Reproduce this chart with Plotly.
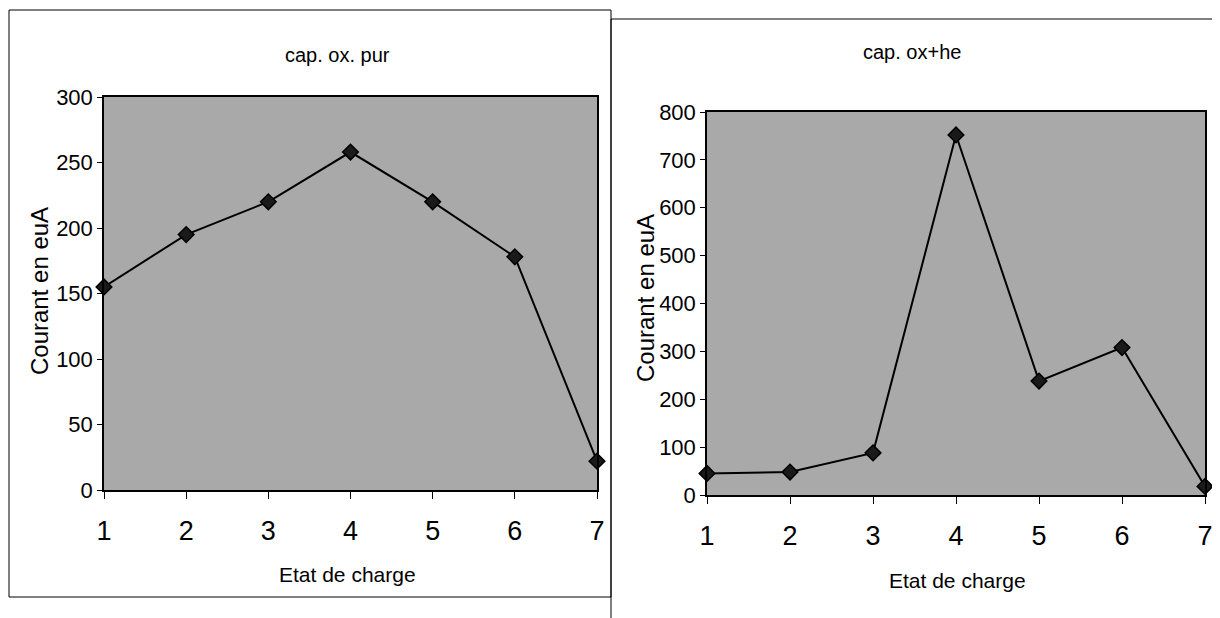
import plotly.graph_objects as go

etat = [1, 2, 3, 4, 5, 6, 7]
courant_pur = [155, 195, 220, 258, 220, 178, 22]
courant_he = [45, 48, 88, 752, 238, 308, 18]

title_left = "cap. ox. pur"
title_right = "cap. ox+he"
xlabel = "Etat de charge"
ylabel = "Courant en euA"

W, H = 1220, 618
OFF = 8  # page body margin
FONT = "Liberation Sans, Arial, sans-serif"
BG = "#a9a9a9"

fig = go.Figure()
for vals, ax in [(courant_pur, ""), (courant_he, "2")]:
    fig.add_trace(go.Scatter(
        x=etat, y=vals, mode="lines+markers",
        xaxis="x" + ax, yaxis="y" + ax,
        line=dict(color="black", width=2),
        marker=dict(symbol="diamond", size=12, color="#1a1a1a",
                    line=dict(color="black", width=1.5)),
        showlegend=False, cliponaxis=False,
    ))


def px(x):
    return (x - OFF) / W


def py(y):
    return 1 - (y - OFF) / H


common = dict(showline=True, linecolor="black", linewidth=1.5, mirror=True,
              showgrid=False, zeroline=False, ticks="outside",
              tickcolor="black", automargin=False)
xcommon = dict(common, ticklen=7, ticklabelstandoff=9,
               tickfont=dict(family=FONT, size=27, color="black"))
ycommon = dict(common, ticklen=5,
               tickfont=dict(family=FONT, size=22, color="black"))

ann = dict(xref="paper", yref="paper", showarrow=False,
           xanchor="center", yanchor="middle")

fig.update_layout(
    width=W, height=H,
    margin=dict(l=0, r=0, t=0, b=0, pad=0),
    paper_bgcolor="white",
    plot_bgcolor=BG,
    xaxis=dict(domain=[px(104), px(597)], range=[1, 7], dtick=1,
               anchor="y", **xcommon),
    yaxis=dict(domain=[py(490), py(97)], range=[0, 300], dtick=50,
               anchor="x", **ycommon),
    xaxis2=dict(domain=[px(707), px(1205)], range=[1, 7], dtick=1,
                anchor="y2", **xcommon),
    yaxis2=dict(domain=[py(495), py(112)], range=[0, 800], dtick=100,
                anchor="x2", **ycommon),
    shapes=[
        dict(type="rect", xref="paper", yref="paper",
             x0=px(9), x1=px(611), y0=py(597), y1=py(10),
             line=dict(color="black", width=1)),
        dict(type="rect", xref="paper", yref="paper",
             x0=px(611), x1=px(1216), y0=py(640), y1=py(19),
             line=dict(color="black", width=1)),
    ],
    annotations=[
        dict(ann, text=title_left, x=px(337), y=py(55),
             font=dict(family=FONT, size=20, color="black")),
        dict(ann, text=title_right, x=px(912), y=py(52),
             font=dict(family=FONT, size=20, color="black")),
        dict(ann, text=xlabel, x=px(348), y=py(574),
             font=dict(family=FONT, size=21, color="black")),
        dict(ann, text=xlabel, x=px(957), y=py(580),
             font=dict(family=FONT, size=21, color="black")),
        dict(ann, text=ylabel, x=px(40), y=py(291), textangle=-90,
             font=dict(family=FONT, size=24, color="black")),
        dict(ann, text=ylabel, x=px(645), y=py(298), textangle=-90,
             font=dict(family=FONT, size=24, color="black")),
    ],
)

fig.write_html("out.html")
